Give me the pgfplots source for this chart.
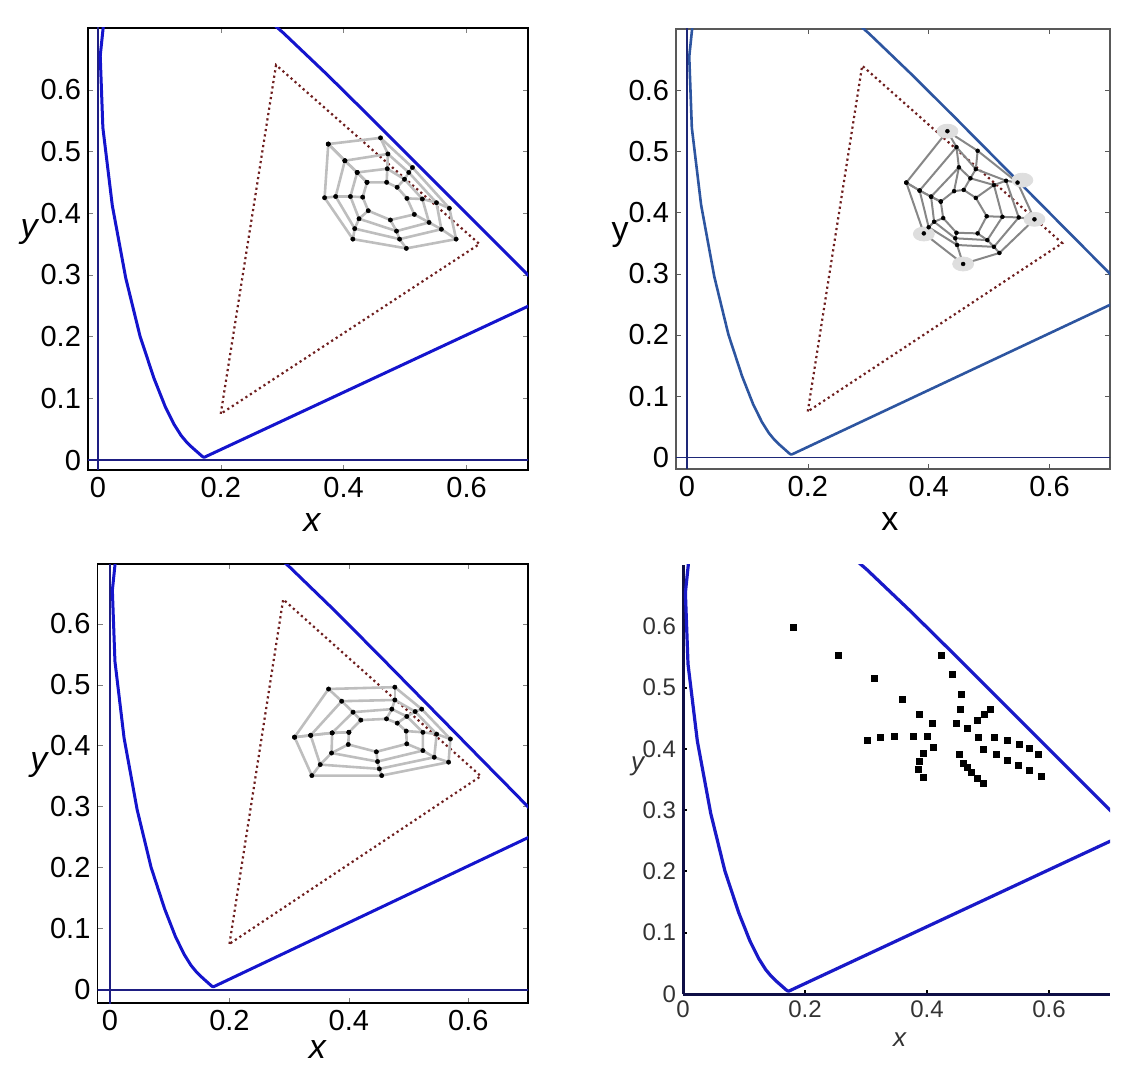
\documentclass[border=0pt]{standalone}
\usepackage{fontspec}
\setmainfont{Liberation Sans}
\usepackage{pgfplots}
\usepackage{pgfplotstable}
\pgfplotsset{compat=1.18}

\definecolor{locA}{RGB}{20,20,205}
\definecolor{zeroA}{RGB}{30,30,130}
\definecolor{locB}{RGB}{45,85,160}
\definecolor{zeroB}{RGB}{30,40,120}
\definecolor{gamutc}{RGB}{110,30,30}
\definecolor{webA}{RGB}{190,190,190}
\definecolor{webB}{RGB}{135,135,135}
\definecolor{blob}{RGB}{222,222,222}
\definecolor{locD}{RGB}{25,25,200}
\definecolor{axD}{RGB}{15,15,70}

% spectral locus (x,y), closed by the line of purples
\pgfplotstableread{
x y
0.1741 0.0050
0.1733 0.0048
0.1714 0.0051
0.1689 0.0069
0.1644 0.0109
0.1566 0.0177
0.1510 0.0227
0.1440 0.0297
0.1355 0.0399
0.1241 0.0578
0.1096 0.0868
0.0913 0.1327
0.0687 0.2007
0.0454 0.2950
0.0235 0.4127
0.0082 0.5384
0.0039 0.6548
0.0139 0.7502
0.0389 0.8120
0.0743 0.8338
0.1142 0.8262
0.1547 0.8059
0.2296 0.7543
0.3016 0.6923
0.3731 0.6245
0.4441 0.5547
0.5125 0.4866
0.5752 0.4242
0.6270 0.3725
0.6658 0.3340
0.6915 0.3083
0.7079 0.2920
0.7190 0.2809
0.7300 0.2700
0.7347 0.2653
0.1741 0.0050
}\locus

\pgfplotstableread{
x y
0.200 0.075
0.290 0.640
0.621 0.350
0.200 0.075
}\gamut

% webs: one row per spoke, rings 1 (inner) to 4 (outer)
\pgfplotstableread{
x1 y1 x2 y2 x3 y3 x4 y4
0.438 0.450 0.422 0.466 0.402 0.485 0.375 0.512
0.470 0.450 0.471 0.472 0.472 0.496 0.460 0.522
0.487 0.442 0.499 0.455 0.506 0.466 0.512 0.474
0.503 0.424 0.528 0.423 0.551 0.417 0.572 0.408
0.515 0.398 0.539 0.385 0.559 0.374 0.583 0.358
0.476 0.389 0.486 0.371 0.491 0.358 0.502 0.343
0.440 0.404 0.425 0.391 0.418 0.375 0.415 0.358
0.431 0.426 0.411 0.427 0.387 0.427 0.369 0.425
0.438 0.450 0.422 0.466 0.402 0.485 0.375 0.512
}\webone

\pgfplotstableread{
x1 y1 x2 y2 x3 y3 x4 y4
0.420 0.418 0.404 0.426 0.385 0.436 0.363 0.449
0.442 0.435 0.450 0.474 0.446 0.507 0.431 0.533
0.458 0.437 0.469 0.456 0.478 0.471 0.481 0.501
0.478 0.424 0.508 0.445 0.528 0.452 0.547 0.449
0.496 0.394 0.522 0.393 0.549 0.392 0.575 0.389
0.481 0.366 0.497 0.355 0.508 0.344 0.517 0.334
0.446 0.367 0.444 0.358 0.447 0.347 0.457 0.316
0.424 0.391 0.409 0.385 0.400 0.376 0.392 0.366
0.420 0.418 0.404 0.426 0.385 0.436 0.363 0.449
}\webtwo

\pgfplotstableread{
x1 y1 x2 y2 x3 y3 x4 y4
0.400 0.422 0.372 0.421 0.336 0.417 0.309 0.414
0.420 0.442 0.407 0.455 0.388 0.473 0.366 0.493
0.463 0.444 0.472 0.460 0.477 0.475 0.477 0.496
0.481 0.437 0.497 0.448 0.511 0.456 0.522 0.460
0.496 0.424 0.524 0.422 0.547 0.419 0.570 0.411
0.497 0.403 0.524 0.392 0.543 0.381 0.567 0.373
0.446 0.390 0.448 0.374 0.451 0.362 0.455 0.351
0.399 0.402 0.371 0.388 0.352 0.369 0.338 0.351
0.400 0.422 0.372 0.421 0.336 0.417 0.309 0.414
}\webthree

\pgfplotstableread{
x y
0.431 0.533
0.555 0.453
0.575 0.389
0.457 0.316
0.392 0.365
}\blobs

\pgfplotstableread{
x y
0.181 0.598
0.254 0.552
0.314 0.515
0.359 0.480
0.388 0.457
0.409 0.441
0.424 0.552
0.441 0.521
0.456 0.489
0.455 0.464
0.449 0.441
0.467 0.434
0.483 0.446
0.494 0.457
0.504 0.464
0.302 0.413
0.324 0.419
0.346 0.421
0.377 0.421
0.401 0.421
0.410 0.402
0.394 0.392
0.387 0.379
0.386 0.366
0.394 0.354
0.453 0.391
0.460 0.377
0.467 0.369
0.473 0.361
0.483 0.351
0.493 0.344
0.484 0.419
0.511 0.418
0.532 0.414
0.552 0.408
0.568 0.400
0.582 0.391
0.492 0.399
0.514 0.391
0.532 0.381
0.550 0.373
0.568 0.365
0.587 0.355
}\samples

\newcommand\drawweb[3]{%
  \addplot[#2, quiver={u=\thisrow{x2}-\thisrow{x1}, v=\thisrow{y2}-\thisrow{y1}}] table[x=x1,y=y1] {#1};
  \addplot[#2, quiver={u=\thisrow{x3}-\thisrow{x2}, v=\thisrow{y3}-\thisrow{y2}}] table[x=x2,y=y2] {#1};
  \addplot[#2, quiver={u=\thisrow{x4}-\thisrow{x3}, v=\thisrow{y4}-\thisrow{y3}}] table[x=x3,y=y3] {#1};
  \addplot[#2, mark=*, mark size=#3, mark options={line width=0.2pt, fill=black, draw=black}] table[x=x1,y=y1] {#1};
  \addplot[#2, mark=*, mark size=#3, mark options={line width=0.2pt, fill=black, draw=black}] table[x=x2,y=y2] {#1};
  \addplot[#2, mark=*, mark size=#3, mark options={line width=0.2pt, fill=black, draw=black}] table[x=x3,y=y3] {#1};
  \addplot[#2, mark=*, mark size=#3, mark options={line width=0.2pt, fill=black, draw=black}] table[x=x4,y=y4] {#1};
}

\pgfplotsset{
  cie/.style={scale only axis, clip=true,
    xtick={0,0.2,0.4,0.6}, ytick={0,0.1,0.2,0.3,0.4,0.5,0.6},
    tick align=inside, major tick length=2.5pt,
    /pgf/number format/assume math mode=true,
    tick label style={font=\fontsize{14.5}{17}\selectfont},
    label style={font=\fontsize{17}{20}\selectfont},
    ylabel style={rotate=-90, anchor=center},
    xlabel style={anchor=center},
    axis line style={line width=0.6pt}},
}

\begin{document}
\begin{tikzpicture}
\useasboundingbox (0,0) rectangle (564pt,532.5pt);

% top left
\begin{axis}[cie, at={(44pt,297.5pt)}, width=220pt, height=221pt,
  xmin=-0.016, xmax=0.7, ymin=-0.016, ymax=0.7,
  xlabel={\textit{x}}, ylabel={\textit{y}},
  xlabel style={at={(axis description cs:0.51,-0.118)}},
  ylabel style={at={(axis description cs:-0.132,0.538)}}]
\addplot[zeroA, line width=1pt] coordinates {(0,-0.1) (0,0.8)};
\addplot[zeroA, line width=1pt] coordinates {(-0.1,0) (0.8,0)};
\addplot[locA, line width=1.5pt, line join=round] table {\locus};
\addplot[gamutc, line width=1.1pt, dash pattern=on 1.1pt off 1.6pt] table {\gamut};
\drawweb{\webone}{webA, line width=1.3pt}{1.1pt}
\end{axis}

% top right
\begin{axis}[cie, at={(338pt,298pt)}, width=217pt, height=220pt,
  xmin=-0.018, xmax=0.7, ymin=-0.019, ymax=0.7,
  axis line style={gray!70!black}, tick style={gray!70!black},
  xlabel={x}, ylabel={y},
  xlabel style={at={(axis description cs:0.493,-0.12)}},
  ylabel style={at={(axis description cs:-0.129,0.532)}}]
\addplot[zeroB, line width=0.8pt] coordinates {(0,-0.1) (0,0.8)};
\addplot[zeroB, line width=0.8pt] coordinates {(-0.1,0) (0.8,0)};
\addplot[locB, line width=1.3pt, line join=round] table {\locus};
\addplot[gamutc, line width=1.1pt, dash pattern=on 1.1pt off 1.6pt] table {\gamut};
\addplot[only marks, mark=*, mark size=3.5pt, color=blob, mark options={xscale=1.5}] table {\blobs};
\drawweb{\webtwo}{webB, line width=1pt}{1pt}
\end{axis}

% bottom left
\begin{axis}[cie, at={(48.75pt,31pt)}, width=215.25pt, height=219.5pt,
  xmin=-0.021, xmax=0.7, ymin=-0.022, ymax=0.698,
  xlabel={\textit{x}}, ylabel={\textit{y}},
  xlabel style={at={(axis description cs:0.512,-0.107)}},
  ylabel style={at={(axis description cs:-0.134,0.542)}}]
\addplot[zeroA, line width=1pt] coordinates {(0,-0.1) (0,0.8)};
\addplot[zeroA, line width=1pt] coordinates {(-0.1,0) (0.8,0)};
\addplot[locA, line width=1.5pt, line join=round] table {\locus};
\addplot[gamutc, line width=1.1pt, dash pattern=on 1.1pt off 1.6pt] table {\gamut};
\drawweb{\webthree}{webA, line width=1.3pt}{1.1pt}
\end{axis}

% bottom right
\begin{axis}[scale only axis, clip=true, at={(341.5pt,35.5pt)}, width=213.5pt, height=214.5pt,
  xmin=0, xmax=0.7, ymin=0, ymax=0.7,
  axis x line*=bottom, axis y line*=left,
  axis line style={axD, line width=1.5pt},
  xtick={0,0.2,0.4,0.6}, ytick={0,0.1,0.2,0.3,0.4,0.5,0.6},
  xtick pos=left, ytick pos=left,
  tick align=inside, major tick length=2pt, tick style={black, line width=1pt},
  /pgf/number format/assume math mode=true,
  tick label style={font=\fontsize{12}{14}\selectfont, text=black!80},
  label style={font=\fontsize{13}{15}\selectfont, text=black!80},
  xlabel={\textit{x}}, ylabel={\textit{y}},
  xlabel style={at={(axis description cs:0.508,-0.107)}, anchor=center},
  ylabel style={at={(axis description cs:-0.105,0.53)}, anchor=center, rotate=-90}]
\addplot[locD, line width=1.6pt, line join=round] table {\locus};
\addplot[only marks, mark=square*, mark size=1.5pt, black] table {\samples};
\end{axis}
\end{tikzpicture}
\end{document}
